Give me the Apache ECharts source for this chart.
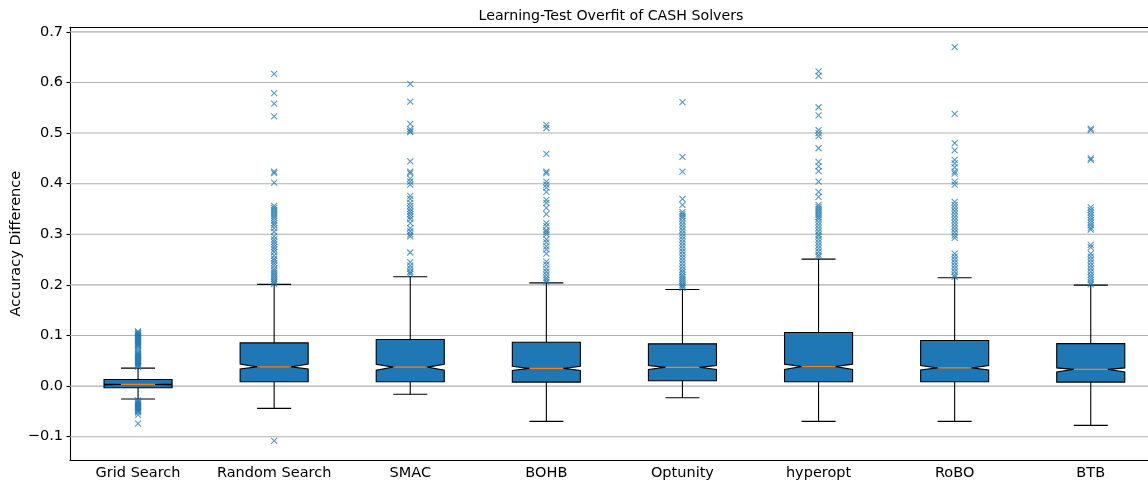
<!DOCTYPE html>
<html>
<head>
<meta charset="utf-8">
<script src="https://cdn.jsdelivr.net/npm/echarts@6/dist/echarts.min.js"></script>
<style>
html,body{margin:0;padding:0;background:#fff;}
#chart{width:1148px;height:482px;}
</style>
</head>
<body>
<div id="chart"></div>
<script>
const categories = ['Grid Search','Random Search','SMAC','BOHB','Optunity','hyperopt','RoBO','BTB'];
const yTicks = [-0.1, 0.0, 0.1, 0.2, 0.3, 0.4, 0.5, 0.6, 0.7];

const whiskerLow  = [-0.0256, -0.044, -0.016, -0.0697, -0.023, -0.0697, -0.0697, -0.0775];
const q1          = [-0.0033, 0.0085, 0.0085, 0.0079, 0.0105, 0.0085, 0.0085, 0.0079];
const notchLow    = [0.0023, 0.034, 0.0316, 0.031, 0.033, 0.033, 0.032, 0.028];
const median      = [0.0033, 0.038, 0.0375, 0.035, 0.037, 0.0388, 0.036, 0.033];
const notchHigh   = [0.0043, 0.0434, 0.043, 0.0394, 0.0408, 0.0434, 0.0408, 0.036];
const q3          = [0.013, 0.0854, 0.092, 0.0868, 0.0835, 0.106, 0.090, 0.084];
const whiskerHigh = [0.0355, 0.201, 0.216, 0.204, 0.191, 0.251, 0.214, 0.1996];

const outliersGrid = [0.038,0.040,0.042,0.044,0.046,0.048,0.050,0.052,0.054,0.056,0.058,0.060,0.062,0.064,0.066,0.070,0.074,0.078,0.080,0.082,0.084,0.086,0.088,0.090,0.092,0.094,0.096,0.098,0.100,0.102,0.104,0.106,0.108,
  -0.028,-0.030,-0.032,-0.034,-0.036,-0.038,-0.040,-0.042,-0.044,-0.046,-0.048,-0.050,-0.052,-0.057,-0.074];
const outliersRandom = [0.617,0.579,0.558,0.533,0.424,0.421,0.402,0.356,0.352,0.348,0.344,0.340,0.336,0.332,0.327,0.322,0.318,0.312,0.305,0.296,0.290,0.285,0.280,0.275,0.270,0.265,0.258,0.252,0.248,0.243,0.238,0.232,0.228,0.224,0.220,0.216,0.212,0.208,0.205,0.202,-0.108];
const outliersSMAC = [0.597,0.562,0.518,0.508,0.504,0.502,0.444,0.424,0.421,0.410,0.404,0.398,0.376,0.370,0.362,0.356,0.350,0.345,0.340,0.335,0.330,0.322,0.312,0.306,0.300,0.296,0.264,0.245,0.238,0.232,0.226,0.222];
const outliersBOHB = [0.516,0.510,0.459,0.424,0.421,0.404,0.398,0.392,0.384,0.368,0.362,0.352,0.340,0.322,0.316,0.308,0.304,0.300,0.290,0.284,0.276,0.270,0.262,0.246,0.240,0.232,0.226,0.220,0.214,0.210,0.206];
const outliersOptunity = [0.561,0.453,0.424,0.370,0.358,0.344,0.340,0.336,0.332,0.326,0.320,0.314,0.308,0.302,0.296,0.290,0.284,0.278,0.272,0.266,0.260,0.254,0.248,0.242,0.236,0.230,0.225,0.220,0.216,0.212,0.208,0.204,0.200,0.197,0.194];
const outliersHyperopt = [0.622,0.613,0.551,0.535,0.506,0.500,0.494,0.470,0.443,0.434,0.425,0.404,0.384,0.374,0.358,0.354,0.350,0.346,0.342,0.338,0.334,0.330,0.324,0.318,0.312,0.306,0.300,0.296,0.290,0.284,0.278,0.272,0.266,0.260,0.256];
const outliersRoBO = [0.670,0.538,0.480,0.466,0.447,0.440,0.432,0.424,0.420,0.404,0.398,0.364,0.358,0.352,0.346,0.340,0.334,0.328,0.322,0.316,0.310,0.304,0.298,0.293,0.262,0.256,0.250,0.244,0.238,0.232,0.226,0.220,0.216];
const outliersBTB = [0.509,0.506,0.450,0.447,0.353,0.348,0.343,0.338,0.333,0.328,0.323,0.318,0.313,0.309,0.279,0.274,0.262,0.256,0.250,0.244,0.238,0.232,0.226,0.220,0.215,0.210,0.205,0.201];

const outlierLists = [outliersGrid, outliersRandom, outliersSMAC, outliersBOHB, outliersOptunity, outliersHyperopt, outliersRoBO, outliersBTB];

const FONT = 'DejaVu Sans';
const FS = 14.5;
const boxData = categories.map((c, i) => [i, whiskerLow[i], q1[i], notchLow[i], median[i], notchHigh[i], q3[i], whiskerHigh[i]]);
const outlierData = [];
outlierLists.forEach((list, i) => list.forEach(v => outlierData.push([i, v])));

const chart = echarts.init(document.getElementById('chart'), null, {renderer: 'canvas'});

function fmt(v) {
  const s = Math.abs(v).toFixed(1);
  return v < -1e-9 ? '\u2212' + s : s;
}

chart.setOption({
  animation: false,
  backgroundColor: '#fff',
  grid: {left: 70, top: 27.3, bottom: 22, right: -10.8, containLabel: false, outerBoundsMode: 'none'},
  graphic: [{
    type: 'text', x: 611, y: 16,
    style: {text: 'Learning-Test Overfit of CASH Solvers', textAlign: 'center', textVerticalAlign: 'middle',
            font: '14.2px "DejaVu Sans"', fill: '#000'}
  }],
  xAxis: [{
    type: 'category', data: categories, boundaryGap: true,
    axisLine: {onZero: false, lineStyle: {color: '#000', width: 1.1}},
    axisTick: {alignWithLabel: true, interval: 0, length: 3.5, lineStyle: {color: '#000', width: 1.1}},
    axisLabel: {interval: 0, color: '#000', fontFamily: FONT, fontSize: FS, margin: 6},
    splitLine: {show: false}
  }, {
    type: 'category', data: categories, position: 'top',
    axisLine: {onZero: false, lineStyle: {color: '#000', width: 1.1}},
    axisTick: {show: false}, axisLabel: {show: false}, splitLine: {show: false}
  }],
  yAxis: {
    type: 'value', min: -0.146, max: 0.709,
    name: 'Accuracy Difference', nameLocation: 'middle', nameGap: 46, nameMoveOverlap: false,
    nameTextStyle: {color: '#000', fontFamily: FONT, fontSize: FS},
    axisLine: {show: true, onZero: false, lineStyle: {color: '#000', width: 1.1}},
    axisTick: {show: true, length: 3.5, customValues: yTicks, lineStyle: {color: '#000', width: 1.1}},
    axisLabel: {color: '#000', fontFamily: FONT, fontSize: FS, margin: 7, customValues: yTicks, formatter: fmt},
    splitLine: {show: false}
  },
  series: [{
    type: 'custom',
    name: 'grid',
    z: 1,
    silent: true,
    data: yTicks.map(v => [0, v]),
    encode: {x: 0, y: 1},
    renderItem: function (params, api) {
      const cs = params.coordSys;
      const y = api.coord([0, api.value(1)])[1];
      return {type: 'line', shape: {x1: cs.x, y1: y, x2: cs.x + cs.width, y2: y},
              style: {stroke: '#b0b0b0', lineWidth: 1.1}};
    }
  }, {
    type: 'custom',
    name: 'boxes',
    z: 3,
    data: boxData,
    encode: {x: 0, y: [1, 2, 3, 4, 5, 6, 7]},
    renderItem: function (params, api) {
      const xi = api.value(0);
      const band = api.size([1, 0])[0];
      const w = band * 0.5;
      const cx = api.coord([xi, 0])[0];
      const Y = k => api.coord([xi, api.value(k)])[1];
      const yWl = Y(1), yQ1 = Y(2), yNl = Y(3), yMed = Y(4), yNh = Y(5), yQ3 = Y(6), yWh = Y(7);
      const L = cx - w / 2, R = cx + w / 2, n = w / 4;
      const blk = {stroke: '#000', lineWidth: 1.1};
      return {type: 'group', children: [
        {type: 'line', shape: {x1: cx, y1: yQ1, x2: cx, y2: yWl}, style: blk},
        {type: 'line', shape: {x1: cx, y1: yQ3, x2: cx, y2: yWh}, style: blk},
        {type: 'line', shape: {x1: cx - w / 4, y1: yWl, x2: cx + w / 4, y2: yWl}, style: blk},
        {type: 'line', shape: {x1: cx - w / 4, y1: yWh, x2: cx + w / 4, y2: yWh}, style: blk},
        {type: 'polygon', shape: {points: [[L, yQ1], [R, yQ1], [R, yNl], [R - n, yMed], [R, yNh], [R, yQ3], [L, yQ3], [L, yNh], [L + n, yMed], [L, yNl]]},
         style: {fill: '#1f77b4', stroke: '#000', lineWidth: 1.1}},
        {type: 'line', shape: {x1: L + n, y1: yMed, x2: R - n, y2: yMed}, style: {stroke: '#ff7f0e', lineWidth: 1.2}}
      ]};
    }
  }, {
    type: 'scatter',
    name: 'outliers',
    z: 4,
    data: outlierData,
    symbol: 'path://M0,0L10,10M10,0L0,10',
    symbolSize: 6,
    itemStyle: {color: 'none', borderColor: '#1f77b4', borderWidth: 1.1, opacity: 0.75}
  }]
});
</script>
</body>
</html>
